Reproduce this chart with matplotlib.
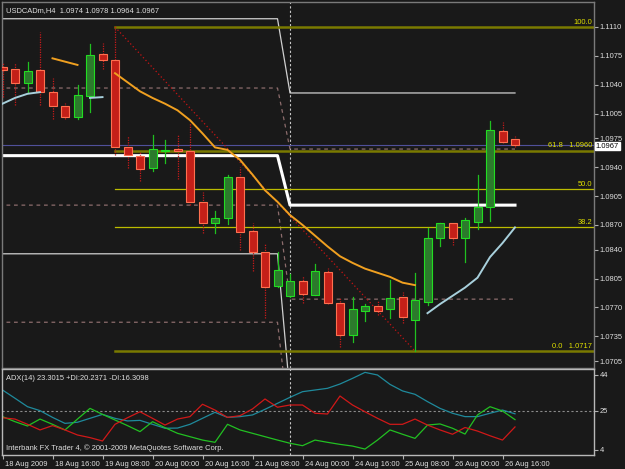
import matplotlib

matplotlib.use("Agg")

import matplotlib.pyplot as plt
import matplotlib.transforms as mtrans

# ---- price data (H4 bars, 18 Aug 2009 00:00 .. 26 Aug 2009 20:00) ----
opens = [1.1061, 1.1059, 1.1042, 1.1058, 1.1031, 1.1014, 1.1001, 1.1026, 1.1077, 1.1070,
         1.0965, 1.0954, 1.0939, 1.0960, 1.0962, 1.0960, 1.0898, 1.0872, 1.0878, 1.0928,
         1.0863, 1.0837, 1.0796, 1.0784, 1.0802, 1.0785, 1.0813, 1.0775, 1.0737, 1.0766,
         1.0772, 1.0768, 1.0783, 1.0755, 1.0777, 1.0854, 1.0872, 1.0854, 1.0874, 1.0892,
         1.0984, 1.0974]
highs = [1.1068, 1.1066, 1.1068, 1.1104, 1.1048, 1.1018, 1.1040, 1.1089, 1.1091, 1.1110,
         1.0978, 1.0958, 1.0979, 1.0973, 1.0979, 1.0994, 1.0910, 1.0887, 1.0931, 1.0940,
         1.0872, 1.0848, 1.0837, 1.0810, 1.0808, 1.0823, 1.0818, 1.0781, 1.0783, 1.0774,
         1.0779, 1.0803, 1.0789, 1.0812, 1.0866, 1.0872, 1.0872, 1.0878, 1.0931, 1.0996,
         1.0995, 1.0978]
lows = [1.1025, 1.1015, 1.1030, 1.1015, 1.0998, 1.0999, 1.0999, 1.1007, 1.1059, 1.0955,
        1.0939, 1.0923, 1.0935, 1.0945, 1.0926, 1.0894, 1.0860, 1.0860, 1.0871, 1.0840,
        1.0814, 1.0757, 1.0795, 1.0783, 1.0775, 1.0785, 1.0774, 1.0722, 1.0728, 1.0753,
        1.0761, 1.0757, 1.0751, 1.0717, 1.0773, 1.0844, 1.0846, 1.0825, 1.0865, 1.0875,
        1.0969, 1.0964]
closes = [1.1058, 1.1042, 1.1057, 1.1031, 1.1014, 1.1001, 1.1028, 1.1076, 1.1070, 1.0965,
          1.0955, 1.0938, 1.0962, 1.0961, 1.0960, 1.0898, 1.0872, 1.0878, 1.0928, 1.0861,
          1.0837, 1.0795, 1.0815, 1.0802, 1.0786, 1.0814, 1.0775, 1.0737, 1.0768, 1.0772,
          1.0766, 1.0782, 1.0758, 1.0779, 1.0854, 1.0872, 1.0854, 1.0876, 1.0892, 1.0985,
          1.0971, 1.0967]

# moving averages (only partly drawn on the chart)
ma_orange_a_idx = [4, 5, 6]
ma_orange_a = [1.1072, 1.1068, 1.1064]
ma_orange_b_idx = list(range(9, 34))
ma_orange_b = [1.1054, 1.1043, 1.1032, 1.1024, 1.1017, 1.1009, 1.0997, 1.0981, 1.0964, 1.0961,
               1.0949, 1.0931, 1.0912, 1.0898, 1.0882, 1.0870, 1.0857, 1.0844, 1.0832, 1.0824,
               1.0817, 1.0812, 1.0807, 1.0800, 1.0797]
ma_blue_a_idx = [0, 1, 2, 3]
ma_blue_a = [1.1017, 1.1024, 1.1029, 1.1031]
ma_blue_b_idx = [7, 8]
ma_blue_b = [1.1024, 1.1025]
ma_blue_c_idx = list(range(34, 42))
ma_blue_c = [1.0763, 1.0774, 1.0784, 1.0794, 1.0806, 1.0831, 1.0848, 1.0867]

# daily pivot style levels: value before / after 21 Aug 20:00
pivot_before = [1.1120, 1.1036, 1.0954, 1.0894, 1.0835, 1.0752]
pivot_after = [1.1030, 1.0962, 1.0894, 1.0780, 1.0665, 1.0620]
pivot_styles = ["thin", "dash", "thick", "dash", "thin", "dash"]

# fibonacci retracement
fib_high = 1.1110
fib_low = 1.0717
fib_levels = [100.0, 61.8, 50.0, 38.2, 0.0]
fib_start = 9
fib_end = 33

bid = 1.0967
price_ticks = [1.1110, 1.1075, 1.1040, 1.1005, 1.0975, 1.0940, 1.0905, 1.0870,
               1.0840, 1.0805, 1.0770, 1.0735, 1.0705]

# ADX(14)
adx = [36.0, 31.6, 27.1, 25.0, 21.4, 18.2, 18.8, 20.9, 23.0, 20.9, 19.5, 19.8, 17.7, 15.6,
       15.7, 17.7, 20.9, 24.1, 21.4, 21.8, 22.7, 25.7, 28.9, 32.1, 35.1, 36.0, 36.9, 39.2,
       42.2, 45.4, 44.0, 39.0, 35.5, 33.7, 29.8, 26.2, 23.6, 21.8, 21.8, 23.6, 25.3, 23.3]
plus_di = [21.8, 19.1, 16.8, 20.5, 17.7, 14.7, 20.5, 26.2, 23.0, 20.0, 17.0, 13.8, 19.1, 15.9,
           12.9, 11.1, 9.3, 8.1, 17.7, 14.7, 12.9, 11.1, 9.3, 7.6, 6.3, 9.3, 8.1, 7.0,
           6.1, 4.5, 9.3, 14.7, 12.4, 10.2, 17.3, 17.9, 15.6, 12.5, 22.7, 27.1, 24.8, 20.2]
minus_di = [21.2, 20.5, 17.7, 14.7, 17.0, 14.7, 12.0, 10.6, 8.8, 17.7, 21.2, 24.4, 20.9, 17.3,
            20.5, 21.8, 28.4, 25.3, 21.4, 22.3, 25.9, 31.2, 26.8, 28.0, 28.0, 23.6, 23.2, 32.8,
            28.0, 24.4, 20.9, 17.7, 17.7, 20.5, 17.3, 14.7, 12.4, 16.0, 14.1, 11.6, 9.3, 16.3]

date_labels = ["18 Aug 2009", "18 Aug 16:00", "19 Aug 08:00", "20 Aug 00:00", "20 Aug 16:00",
               "21 Aug 08:00", "24 Aug 00:00", "24 Aug 16:00", "25 Aug 08:00", "26 Aug 00:00",
               "26 Aug 16:00"]

BG = "#191919"
TXT = "#e0e0e0"
FS = 5.4

plt.rcParams["font.family"] = ["Liberation Sans", "DejaVu Sans"]

W, H = 625, 469
fig = plt.figure(figsize=(W / 100, H / 100), dpi=100, facecolor=BG)

ax = fig.add_axes([2 / W, (H - 368) / H, 592 / W, 366 / H], facecolor=BG)
ax2 = fig.add_axes([2 / W, (H - 455) / H, 592 / W, 86 / H], facecolor=BG)

n = len(opens)
xs = list(range(n))
xlim = (-0.04, 47.32)

# ---- pivot levels ----
for lb, la, st in zip(pivot_before, pivot_after, pivot_styles):
    px = [-1, 22, 23, 41]
    py = [lb, lb, la, la]
    if st == "thick":
        ax.plot(px, py, color="white", lw=2.2, zorder=2)
    elif st == "thin":
        ax.plot(px, py, color="#d0d0d0", lw=0.9, zorder=2)
    else:
        ax.plot(px, py, color="#8c6c6c", lw=0.9, ls=(0, (3, 3)), zorder=2)

# ---- bid line ----
ax.axhline(bid, color="#50509a", lw=0.8, zorder=2)

# ---- fibonacci ----
for lv in fib_levels:
    p = fib_low + (fib_high - fib_low) * lv / 100
    strong = lv in (100.0, 61.8, 0.0)
    ax.plot([fib_start, xlim[1]], [p, p], color="#7a7a00" if strong else "#bcbc00",
            lw=1.8 if strong else 0.9, zorder=2)
    if lv in (61.8, 0.0):
        lab = "%.1f   %.4f" % (lv, p)
    else:
        lab = "%.1f" % lv
    ax.text(xlim[1] - 0.12, p + 0.00018, lab, color="#e0e000", fontsize=FS,
            ha="right", va="bottom", zorder=6)
ax.plot([fib_start, fib_end], [fib_high, fib_low], color="#c81414", lw=0.9,
        ls=(0, (1, 2)), zorder=2)

# ---- candles ----
for i in xs:
    o, h, l, c = opens[i], highs[i], lows[i], closes[i]
    up = c >= o
    wick = "#20c020" if up else "#c81a1a"
    ax.plot([i, i], [l, h], color=wick, lw=0.9, ls="-" if up else (0, (1, 1)), zorder=3)
    lo, hi = min(o, c), max(o, c)
    if hi - lo < 0.00008:
        lo, hi = lo - 0.00004, hi + 0.00004
    ax.bar(i, hi - lo, bottom=lo, width=0.64,
           color="#2c7a2c" if up else "#c42018",
           edgecolor="#22dd22" if up else "#ff7050",
           linewidth=0.8, zorder=4)

# ---- moving averages ----
ax.plot(ma_orange_a_idx, ma_orange_a, color="#f0a020", lw=1.4, zorder=5)
ax.plot(ma_orange_b_idx, ma_orange_b, color="#f0a020", lw=1.4, zorder=5)
for ix, vals in [(ma_blue_a_idx, ma_blue_a), (ma_blue_b_idx, ma_blue_b), (ma_blue_c_idx, ma_blue_c)]:
    ax.plot(ix, vals, color="#a8d0dc", lw=1.4, zorder=5)

# ---- period separator ----
ax.axvline(23, color="#c8c8c8", lw=0.8, ls=(0, (2, 2)), zorder=1)
ax2.axvline(23, color="#c8c8c8", lw=0.8, ls=(0, (2, 2)), zorder=1)

ax.set_xlim(*xlim)
ax.set_ylim(1.069652, 1.114031)
ax.set_xticks([])
ax.yaxis.tick_right()
ax.set_yticks(price_ticks)
ax.set_yticklabels(["%.4f" % t for t in price_ticks])
ax.tick_params(axis="y", colors="#b0b0b0", labelcolor=TXT, labelsize=FS,
               length=3, width=0.8, pad=1)
for s in ["left", "top", "right", "bottom"]:
    ax.spines[s].set_color("#7a7a7a")
    ax.spines[s].set_linewidth(1.0)

ax.text(0.006, 0.985, "USDCADm,H4  1.0974 1.0978 1.0964 1.0967", transform=ax.transAxes,
        color=TXT, fontsize=FS, ha="left", va="top")

ax.annotate("%.4f" % bid, xy=(1.0, bid), xycoords=("axes fraction", "data"),
            xytext=(1.2, -0.8), textcoords="offset points", ha="left", va="center",
            fontsize=FS, color="black",
            bbox=dict(boxstyle="square,pad=0.1", fc="white", ec="white"),
            annotation_clip=False, zorder=7)

# ---- ADX panel ----
ax2.axhline(25, color="#8a8a8a", lw=0.8, ls=(0, (2, 2)))
ax2.plot(xs, adx, color="#1f8a9c", lw=0.9)
ax2.plot(xs, plus_di, color="#22c022", lw=0.9)
ax2.plot(xs, minus_di, color="#d01818", lw=0.9)
ax2.set_xlim(*xlim)
ax2.set_ylim(1.333, 47.2)
ax2.yaxis.tick_right()
ax2.set_yticks([44, 25, 4])
ax2.set_yticklabels(["44", "25", "4"])
ax2.tick_params(axis="y", colors="#b0b0b0", labelcolor=TXT, labelsize=FS,
                length=3, width=0.8, pad=1)
ax2.set_xticks(list(range(0, 41, 4)))
ax2.set_xticklabels(date_labels, ha="left")
ax2.tick_params(axis="x", colors="#b0b0b0", labelcolor=TXT, labelsize=FS,
                length=3, width=0.8, pad=1)
offset = mtrans.ScaledTranslation(1.5 / 72, 0, fig.dpi_scale_trans)
for lab in ax2.get_xticklabels():
    lab.set_transform(lab.get_transform() + offset)
for s in ["left", "top", "right", "bottom"]:
    ax2.spines[s].set_color("#b8b8b8")
    ax2.spines[s].set_linewidth(1.0)

ax2.text(0.006, 0.93, "ADX(14) 23.3015 +DI:20.2371 -DI:16.3098", transform=ax2.transAxes,
         color=TXT, fontsize=FS, ha="left", va="top")
ax2.text(0.006, 0.04, "Interbank FX Trader 4, \u00a9 2001-2009 MetaQuotes Software Corp.",
         transform=ax2.transAxes, color=TXT, fontsize=FS, ha="left", va="bottom")

fig.savefig("out.png", dpi=100, facecolor=BG)
plt.close(fig)
